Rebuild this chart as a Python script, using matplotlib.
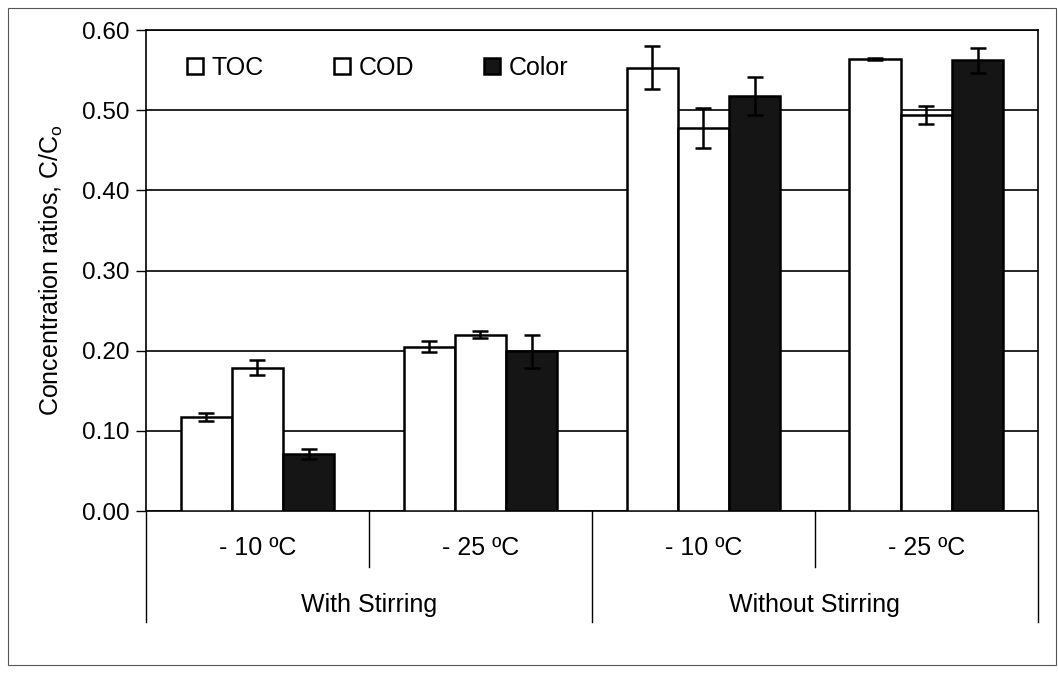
import numpy as np
import matplotlib
matplotlib.use("Agg")
import matplotlib.pyplot as plt
import matplotlib.transforms as mtransforms

plt.rcParams['font.family'] = ['Liberation Sans', 'DejaVu Sans']
plt.rcParams['mathtext.fontset'] = 'custom'
plt.rcParams['mathtext.rm'] = 'Liberation Sans'
plt.rcParams['mathtext.it'] = 'Liberation Sans'

# ---------------- Data ----------------
temps = ['- 10 ºC', '- 25 ºC', '- 10 ºC', '- 25 ºC']
groups = ['With Stirring', 'Without Stirring']

toc = [0.117, 0.205, 0.553, 0.564]
toc_err = [0.005, 0.007, 0.027, 0.001]
cod = [0.179, 0.220, 0.478, 0.494]
cod_err = [0.009, 0.004, 0.025, 0.011]
color = [0.071, 0.199, 0.518, 0.562]
color_err = [0.006, 0.021, 0.024, 0.015]

FS = 18

# ---------------- Figure ----------------
fig = plt.figure(figsize=(10.58, 6.73), dpi=100)
ax = fig.add_axes([0.138, 0.2407, 0.843, 0.7147])

# frame round the whole figure
fig.add_artist(plt.Rectangle((0.008, 0.012), 0.99, 0.976, transform=fig.transFigure,
                             fill=False, edgecolor='#555555', linewidth=0.8))

x = np.arange(len(temps))
w = 0.23
err_kw = dict(ecolor='black', elinewidth=1.8, capsize=6, capthick=1.8)

ax.bar(x - w, toc, w, yerr=toc_err, color='white', edgecolor='black',
       linewidth=1.8, label='TOC', error_kw=err_kw, zorder=3)
ax.bar(x, cod, w, yerr=cod_err, color='white', edgecolor='black',
       linewidth=1.8, label='COD', error_kw=err_kw, zorder=3)
ax.bar(x + w, color, w, yerr=color_err, color='#151515', edgecolor='black',
       linewidth=1.8, label='Color', error_kw=err_kw, zorder=3)

ax.set_xlim(-0.5, len(temps) - 0.5)
ax.set_ylim(0, 0.6)
ax.set_yticks(np.arange(0, 0.61, 0.1))
ax.set_yticklabels(['%.2f' % v for v in np.arange(0, 0.61, 0.1)], fontsize=17.5)
ax.yaxis.grid(True, color='black', linewidth=1.2, zorder=0)
ax.set_axisbelow(True)
ax.tick_params(axis='y', direction='out', length=7, width=1, pad=5)
ax.set_xticks([])
for s in ax.spines.values():
    s.set_linewidth(1.2)

ax.set_ylabel('Concentration ratios, C/C$_\\mathrm{o}$', fontsize=FS, labelpad=12)

# ---------------- Category axis ----------------
trans = mtransforms.blended_transform_factory(ax.transData, ax.transAxes)
for i, t in enumerate(temps):
    ax.text(x[i], -0.077, t, transform=trans, ha='center', va='center', fontsize=FS)
for j, g in enumerate(groups):
    ax.text(x[2 * j] + 0.5, -0.195, g, transform=trans, ha='center', va='center', fontsize=FS)

for i in range(len(temps) + 1):
    xd = i - 0.5
    low = -0.231 if i % 2 == 0 else -0.116
    ax.plot([xd, xd], [0, low], transform=trans, color='black', linewidth=1,
            clip_on=False)

# ---------------- Legend ----------------
leg = ax.legend(loc='center left', bbox_to_anchor=(0.046, 0.921), ncol=3,
                frameon=False, fontsize=FS, handlelength=0.64, handleheight=0.64,
                handletextpad=0.35, columnspacing=2.8, borderaxespad=0,
                borderpad=0)

fig.savefig('out.png', dpi=100)
